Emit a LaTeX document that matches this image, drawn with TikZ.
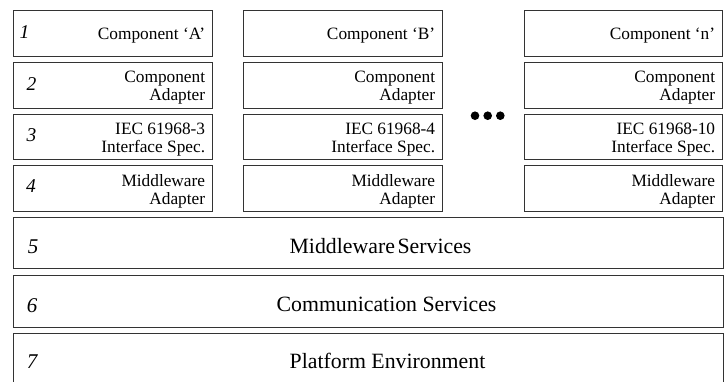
\documentclass[tikz,border=0pt]{standalone}
\usepackage{fontspec}
\setmainfont{Liberation Serif}
\usetikzlibrary{calc}

\tikzset{
  layer/.style={draw=black!80, line width=1.3pt, inner sep=0pt, anchor=north west},
  cell/.style={layer, minimum height=45.5pt},
  wide/.style={layer, minimum width=710pt},
  lbl/.style={font=\fontsize{17.3}{18}\selectfont, align=right, anchor=east, inner sep=0pt},
  biglbl/.style={font=\fontsize{21.8}{24}\selectfont, anchor=base, inner sep=0pt},
  num/.style={font=\fontsize{19.5}{20}\selectfont\itshape, anchor=base, inner sep=0pt},
  bignum/.style={font=\fontsize{21}{22}\selectfont\itshape, anchor=base, inner sep=0pt},
  dot/.style={circle, fill=black, inner sep=0pt, minimum size=8.6pt},
}

\begin{document}
\begin{tikzpicture}[x=1pt, y=-1pt]
  \useasboundingbox (0,0) rectangle (727,381);
  \clip (0,0) rectangle (727,381);

  % component stacks: columns A, B and n, layers 1-4
  \foreach \col/\xl/\w in {a/13/199, b/243/199, n/524/198} {
    \foreach \row/\yt in {1/10, 2/62, 3/113.5, 4/165} {
      \node[cell, minimum width=\w pt] (\col\row) at (\xl,\yt) {};
    }
  }

  % layer texts
  \node[lbl] (ta1) at ($(a1.east)+(-8,2)$) {Component `A'};
  \node[lbl] (tb1) at ($(b1.east)+(-8,2)$) {Component `B'};
  \node[lbl] (tn1) at ($(n1.east)+(-8,2)$) {Component `n'};
  \foreach \col in {a,b,n} {
    \node[lbl] (t\col2) at ($(\col2.east)+(-8,2.5)$) {Component\\Adapter};
    \node[lbl] (t\col4) at ($(\col4.east)+(-8,2.5)$) {Middleware\\Adapter};
  }
  \node[lbl] (ta3) at ($(a3.east)+(-8,2.5)$) {IEC 61968-3\\Interface Spec.};
  \node[lbl] (tb3) at ($(b3.east)+(-8,2.5)$) {IEC 61968-4\\Interface Spec.};
  \node[lbl] (tn3) at ($(n3.east)+(-8,2.5)$) {IEC 61968-10\\Interface Spec.};

  % layer numbers
  \node[num] (n1l) at (24.5,38) {1};
  \node[num] (n2l) at (31.5,90) {2};
  \node[num] (n3l) at (31.5,141) {3};
  \node[num] (n4l) at (31,192) {4};

  % ellipsis between columns B and n
  \node[dot] (d1) at (475,115.7) {};
  \node[dot] (d2) at (487.7,115.7) {};
  \node[dot] (d3) at (500.3,115.7) {};

  % shared layers 5-7
  \node[wide, minimum height=51pt] (m5) at (13,217) {};
  \node[wide, minimum height=52pt] (m6) at (13,275) {};
  \node[wide, minimum height=54pt] (m7) at (13,333) {};

  \node[bignum] (n5l) at (33,253) {5};
  \node[bignum] (n6l) at (32,312) {6};
  \node[bignum] (n7l) at (32,368) {7};

  \node[biglbl] (t5) at (380.5,253) {Middleware\hspace{0.12em}Services};
  \node[biglbl] (t6) at (386.5,311) {Communication Services};
  \node[biglbl] (t7) at (387.5,368) {Platform Environment};
\end{tikzpicture}
\end{document}
